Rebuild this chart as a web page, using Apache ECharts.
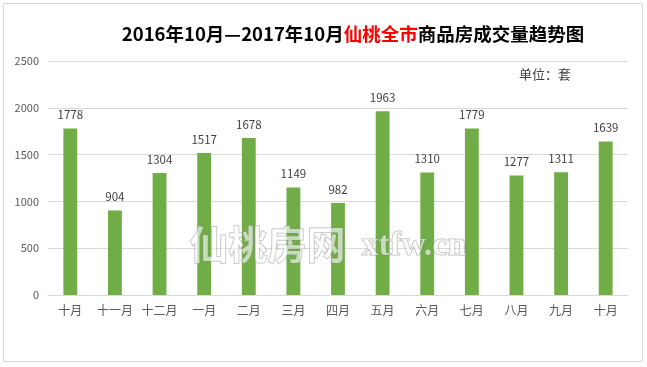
<!DOCTYPE html>
<html><head><meta charset="utf-8">
<script src="https://cdn.jsdelivr.net/npm/echarts@6/dist/echarts.min.js"></script>
<style>html,body{margin:0;padding:0;background:#fff}#c{width:647px;height:367px}</style>
</head><body><div id="c"></div>
<script>
const categories = ['十月','十一月','十二月','一月','二月','三月','四月','五月','六月','七月','八月','九月','十月'];
const values = [1778, 904, 1304, 1517, 1678, 1149, 982, 1963, 1310, 1779, 1277, 1311, 1639];
const yTicks = [0, 500, 1000, 1500, 2000, 2500];
const font = '"Noto Sans CJK SC", "Microsoft YaHei", sans-serif';
const chart = echarts.init(document.getElementById('c'));
chart.setOption({
  animation: false,
  title: {
    text: '{a|2016年10月—2017年10月}{r|仙桃全市}{a|商品房成交量趋势图}',
    left: 348, top: 20, textAlign: 'center',
    textStyle: {
      rich: {
        a: {fontSize: 18.5, fontWeight: 'bold', color: '#000', fontFamily: font},
        r: {fontSize: 18.5, fontWeight: 'bold', color: '#ff0000', fontFamily: font}
      }
    }
  },
  graphic: [
    {type: 'rect', shape: {x: 3.5, y: 3.5, width: 639, height: 358}, style: {fill: 'none', stroke: '#d9d9d9', lineWidth: 1}, z: -1},
    {type: 'text', left: 519, top: 68, style: {text: '单位：套', fontSize: 13, fill: '#404040', fontFamily: font}},
    {type: 'text', left: 189, top: 224, z: 100, style: {text: '仙桃房网', fontSize: 39, fontWeight: 'bold', fontFamily: font, fill: 'rgba(255,255,255,0.6)', stroke: 'rgba(130,130,130,0.6)', lineWidth: 1}},
    {type: 'text', left: 361, top: 229, z: 100, style: {text: 'xtfw.cn', fontSize: 34, fontWeight: 'bold', fontFamily: '"Liberation Serif", serif', fill: 'rgba(255,255,255,0.6)', stroke: 'rgba(130,130,130,0.6)', lineWidth: 1}}
  ],
  grid: {left: 48, right: 19, top: 61, bottom: 72, containLabel: false},
  xAxis: {
    type: 'category', data: categories,
    axisLine: {lineStyle: {color: '#d9d9d9'}},
    axisTick: {show: false},
    axisLabel: {color: '#595959', fontSize: 12, fontFamily: font, margin: 9, interval: 0}
  },
  yAxis: {
    type: 'value', min: yTicks[0], max: yTicks[yTicks.length-1], interval: 500,
    axisLine: {show: false}, axisTick: {show: false},
    splitLine: {lineStyle: {color: '#d9d9d9'}},
    axisLabel: {color: '#595959', fontSize: 11, fontFamily: font, margin: 9, formatter: v => String(v)}
  },
  series: [{
    type: 'bar', data: values, barWidth: '31%',
    itemStyle: {color: '#70ad47'},
    label: {show: true, position: 'top', color: '#404040', fontSize: 11.5, fontFamily: font, distance: 8}
  }]
});
</script></body></html>
